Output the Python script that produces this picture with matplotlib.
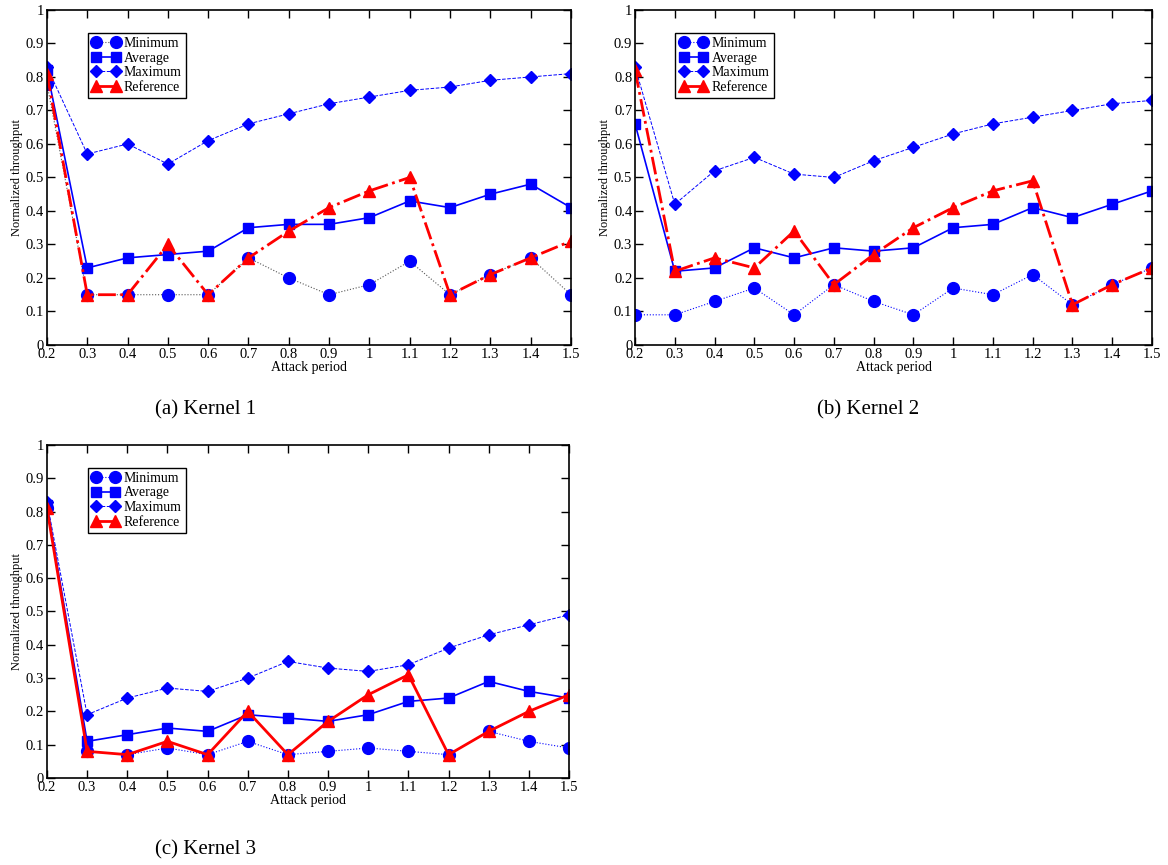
import numpy as np
import matplotlib.pyplot as plt

plt.rcParams['font.family'] = ['Liberation Serif', 'DejaVu Serif']

periods = [0.2, 0.3, 0.4, 0.5, 0.6, 0.7, 0.8, 0.9, 1.0, 1.1, 1.2, 1.3, 1.4, 1.5]
tick_labels = ['0.2', '0.3', '0.4', '0.5', '0.6', '0.7', '0.8', '0.9', '1', '1.1', '1.2', '1.3', '1.4', '1.5']
y_ticks = [0, 0.1, 0.2, 0.3, 0.4, 0.5, 0.6, 0.7, 0.8, 0.9, 1]
y_labels = ['0', '0.1', '0.2', '0.3', '0.4', '0.5', '0.6', '0.7', '0.8', '0.9', '1']

k1_min = [0.78, 0.15, 0.15, 0.15, 0.15, 0.26, 0.20, 0.15, 0.18, 0.25, 0.15, 0.21, 0.26, 0.15]
k1_avg = [0.82, 0.23, 0.26, 0.27, 0.28, 0.35, 0.36, 0.36, 0.38, 0.43, 0.41, 0.45, 0.48, 0.41]
k1_max = [0.83, 0.57, 0.60, 0.54, 0.61, 0.66, 0.69, 0.72, 0.74, 0.76, 0.77, 0.79, 0.80, 0.81]
k1_ref = [0.81, 0.15, 0.15, 0.30, 0.15, 0.26, 0.34, 0.41, 0.46, 0.50, 0.15, 0.21, 0.26, 0.31]

k2_min = [0.09, 0.09, 0.13, 0.17, 0.09, 0.18, 0.13, 0.09, 0.17, 0.15, 0.21, 0.12, 0.18, 0.23]
k2_avg = [0.66, 0.22, 0.23, 0.29, 0.26, 0.29, 0.28, 0.29, 0.35, 0.36, 0.41, 0.38, 0.42, 0.46]
k2_max = [0.83, 0.42, 0.52, 0.56, 0.51, 0.50, 0.55, 0.59, 0.63, 0.66, 0.68, 0.70, 0.72, 0.73]
k2_ref = [0.82, 0.22, 0.26, 0.23, 0.34, 0.18, 0.27, 0.35, 0.41, 0.46, 0.49, 0.12, 0.18, 0.23]

k3_min = [0.81, 0.08, 0.07, 0.09, 0.07, 0.11, 0.07, 0.08, 0.09, 0.08, 0.07, 0.14, 0.11, 0.09]
k3_avg = [0.82, 0.11, 0.13, 0.15, 0.14, 0.19, 0.18, 0.17, 0.19, 0.23, 0.24, 0.29, 0.26, 0.24]
k3_max = [0.83, 0.19, 0.24, 0.27, 0.26, 0.30, 0.35, 0.33, 0.32, 0.34, 0.39, 0.43, 0.46, 0.49]
k3_ref = [0.81, 0.08, 0.07, 0.11, 0.07, 0.20, 0.07, 0.17, 0.25, 0.31, 0.07, 0.14, 0.20, 0.25]

captions = ['(a) Kernel 1', '(b) Kernel 2', '(c) Kernel 3']

fig = plt.figure(figsize=(11.68, 8.65), dpi=100)
ax1 = fig.add_axes([0.0402, 0.6012, 0.4486, 0.3873])
ax2 = fig.add_axes([0.5437, 0.6012, 0.4426, 0.3873])
ax3 = fig.add_axes([0.0402, 0.1006, 0.4470, 0.3850])


def draw(ax, mn, av, mx, rf, min_col, ref_ls):
    ax.plot(periods, mn, color=min_col, ls=':', lw=0.8, marker='o', ms=8.5,
            mfc='#0000ff', mec='#0000ff', label='Minimum')
    ax.plot(periods, av, color='#0000ff', ls='-', lw=1.2, marker='s', ms=7,
            label='Average')
    ax.plot(periods, mx, color='#0000ff', ls='--', lw=0.7, marker='D', ms=6,
            label='Maximum')
    ax.plot(periods, rf, color='#ff0000', ls=ref_ls, lw=2, marker='^', ms=9,
            label='Reference')
    ax.set_xlim(0.2, 1.5)
    ax.set_ylim(0, 1)
    ax.set_xticks(periods)
    ax.set_xticklabels(tick_labels)
    ax.set_yticks(y_ticks)
    ax.set_yticklabels(y_labels)
    ax.tick_params(direction='in', top=True, right=True, length=6, width=1,
                   labelsize=10.5, pad=2)
    for s in ax.spines.values():
        s.set_linewidth(1.2)
    ax.set_xlabel('Attack period', fontsize=10, labelpad=0)
    ax.set_ylabel('Normalized throughput', fontsize=9, labelpad=2)
    leg = ax.legend(loc='upper left', bbox_to_anchor=(0.078, 0.932), fontsize=10,
                    numpoints=2, handlelength=2.0, handletextpad=0.3,
                    labelspacing=0.12, borderpad=0.3, borderaxespad=0,
                    fancybox=False, framealpha=1, edgecolor='black')
    leg.get_frame().set_linewidth(1)


draw(ax1, k1_min, k1_avg, k1_max, k1_ref, '#555555', '-.')
draw(ax2, k2_min, k2_avg, k2_max, k2_ref, '#0000ff', '-.')
draw(ax3, k3_min, k3_avg, k3_max, k3_ref, '#0000ff', '-')

fig.text(0.1764, 0.526, captions[0], fontsize=15, ha='center', va='center')
fig.text(0.7432, 0.526, captions[1], fontsize=15, ha='center', va='center')
fig.text(0.1764, 0.017, captions[2], fontsize=15, ha='center', va='center')

fig.savefig('out.png', dpi=100)
